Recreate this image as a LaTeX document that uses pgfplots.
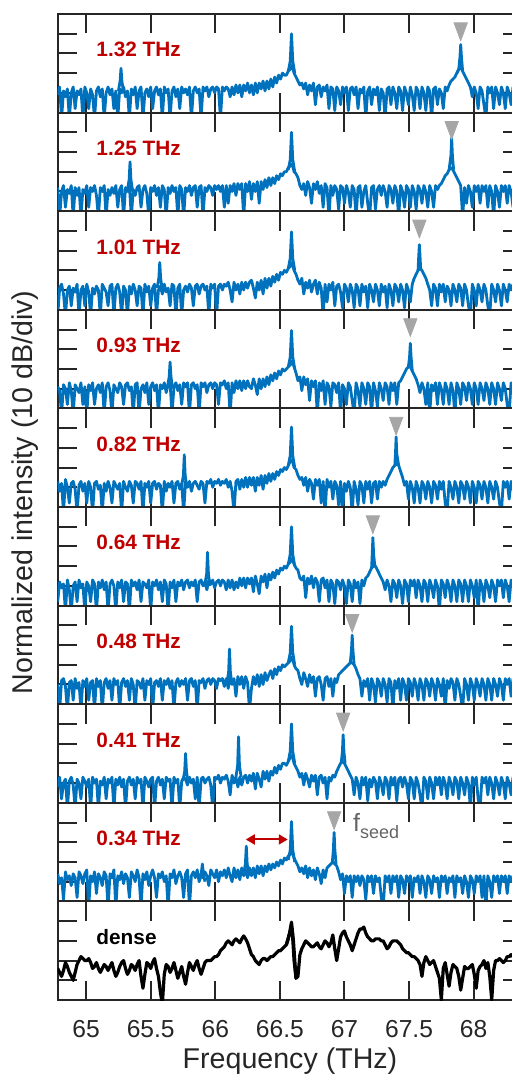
\documentclass[border=0pt]{standalone}
\usepackage{pgfplots}
\pgfplotsset{compat=1.18}
\usepackage{pgfplotstable}
\usepackage{fontspec}
\setmainfont{Liberation Sans}
\usetikzlibrary{arrows.meta}
\definecolor{axgray}{RGB}{38,38,38}
\definecolor{mblue}{RGB}{0,114,189}
\definecolor{lblred}{RGB}{192,0,0}
\definecolor{trigray}{RGB}{166,166,166}
\definecolor{fgray}{RGB}{100,100,100}

% noise floor of each trace, a = 1.32 THz ... i = 0.34 THz, j = dense
\pgfplotstableread{
x a b c d e f g h i j
64.78 0.9 1.2 -0.3 1.1 1.3 0.2 1.0 0.8 1.4 1.6
64.795 1.3 -0.3 1.1 0.9 0.8 1.2 -0.3 1.3 0.9 1.4
64.81 -0.3 1.0 1.3 -0.3 1.2 0.9 1.2 0.2 1.2 1.2
64.825 1.1 1.3 0.8 1.2 -0.3 1.1 1.3 1.0 0.1 1.5
64.84 0.8 0.2 -0.3 1.0 1.4 -0.3 0.9 1.2 1.5 1.9
64.855 1.2 1.1 1.0 0.2 1.0 1.3 -0.3 -0.3 1.1 1.7
64.87 -0.3 0.9 1.2 1.3 0.2 0.8 1.1 1.1 1.3 1.4
64.885 1.0 1.3 0.2 0.9 1.2 -0.3 1.2 1.3 0.8 1.2
64.90 1.3 -0.3 1.1 -0.3 1.3 1.0 0.2 0.9 1.4 1.0
64.915 0.2 1.2 0.9 1.2 0.9 1.2 1.3 -0.3 1.2 1.4
64.93 1.1 0.8 1.3 1.0 -0.3 0.2 0.8 1.2 0.2 1.8
64.945 0.9 1.2 -0.3 0.8 1.1 1.3 1.1 1.0 1.5 2.0
64.96 1.2 -0.3 1.0 1.3 1.3 0.9 -0.3 0.2 1.3 2.2
64.975 -0.3 1.1 1.2 0.2 0.8 1.1 1.2 1.3 0.9 2.1
64.99 1.3 0.9 0.2 1.1 1.2 -0.3 0.9 1.1 1.4 2.0
65.005 1.0 1.3 1.3 -0.3 0.2 1.2 1.3 0.8 1.6 2.0
65.02 0.2 0.2 0.9 1.2 1.3 1.0 0.2 1.2 -0.3 2.1
65.035 1.2 1.2 -0.3 0.9 1.0 0.2 1.1 -0.3 1.3 1.9
65.05 0.9 1.0 1.1 1.3 -0.3 1.3 1.2 1.3 1.0 1.6
65.065 -0.3 1.3 0.8 0.2 1.2 1.1 -0.3 1.0 1.5 1.7
65.08 1.1 0.8 1.2 1.0 1.3 -0.3 1.3 1.2 0.4 1.9
65.095 1.3 -0.3 1.0 1.2 0.9 1.2 0.9 -0.3 1.4 1.6
65.11 0.8 1.2 -0.3 0.8 1.1 0.9 1.2 1.1 1.2 1.4
65.125 1.2 1.0 1.3 1.3 -0.3 1.3 -0.3 0.9 0.8 1.6
65.14 -0.3 1.3 1.1 -0.3 1.2 0.8 1.1 1.3 1.5 1.8
65.155 1.0 -0.3 0.9 1.1 0.8 1.2 1.3 0.2 1.3 1.7
65.17 1.3 1.1 0.2 1.3 1.3 -0.3 0.8 1.2 -0.3 1.5
65.185 0.9 0.8 1.2 0.9 1.0 1.1 1.2 1.0 1.4 1.7
65.20 1.2 1.2 1.3 -0.3 0.2 1.3 0.2 1.3 1.2 1.9
65.215 0.2 0.9 -0.3 1.2 1.3 1.0 1.3 -0.3 1.6 1.5
65.23 1.1 1.3 1.1 1.0 1.1 -0.3 1.0 1.2 -0.3 1.2
65.245 -0.3 0.2 1.3 0.8 0.9 1.2 1.2 0.9 1.3 1.4
65.26 1.2 1.1 0.9 1.3 1.2 0.9 -0.3 1.3 1.1 1.7
65.275 1.0 1.3 -0.3 1.1 -0.3 1.3 1.1 0.8 1.5 1.9
65.29 1.3 -0.3 1.2 0.2 1.3 0.2 1.3 1.2 0.9 2.0
65.305 0.8 1.2 1.0 1.2 1.0 1.2 0.9 -0.3 1.4 1.6
65.32 1.1 1.0 -0.3 1.3 0.8 1.1 1.2 1.1 1.2 1.3
65.335 -0.3 1.3 1.2 0.9 1.3 -0.3 0.2 1.3 0.2 1.5
65.35 1.2 -0.3 0.8 1.1 1.1 1.3 1.3 0.9 1.5 1.8
65.365 0.9 1.1 1.3 -0.3 0.2 1.0 1.0 1.2 1.3 1.7
65.38 1.3 0.8 1.0 1.2 1.3 1.2 -0.3 0.2 1.0 1.5
65.395 0.2 1.2 0.2 1.3 1.2 0.8 1.2 1.3 1.6 1.8
65.41 1.1 1.3 1.2 -0.3 0.9 1.3 1.1 1.0 1.2 2.0
65.425 1.3 0.2 1.1 1.0 1.3 0.2 0.8 1.2 -0.3 1.2
65.44 -0.3 1.1 -0.3 1.2 -0.3 1.2 1.3 -0.3 1.4 0.6
65.455 1.0 1.3 1.3 0.8 1.2 1.1 0.2 1.3 1.1 1.3
65.47 1.2 0.9 0.9 1.3 1.0 0.9 1.2 1.1 1.5 1.9
65.485 0.8 -0.3 1.2 0.2 1.3 1.3 1.0 0.8 0.8 1.8
65.50 1.3 1.2 0.2 1.1 0.2 -0.3 1.3 1.2 1.3 1.6
65.515 0.2 1.0 1.1 1.3 1.2 1.2 -0.3 1.3 1.6 1.9
65.53 1.1 1.3 1.3 0.9 1.3 1.0 1.1 -0.3 1.2 2.1
65.545 1.3 0.8 -0.3 1.2 0.9 1.3 1.2 1.1 0.2 1.6
65.56 0.9 1.2 1.0 -0.3 1.2 0.8 0.9 1.3 1.4 1.2
65.575 1.2 0.2 1.2 1.2 1.1 1.2 1.3 0.9 1.2 0.4
65.59 -0.3 1.3 0.8 1.0 -0.3 0.2 0.2 1.2 1.5 -0.2
65.605 1.3 1.1 1.3 1.3 1.3 1.3 1.2 0.2 1.0 1.3
65.62 1.0 -0.3 0.9 0.8 0.8 1.1 1.0 1.3 1.3 1.8
65.635 1.2 1.2 1.1 1.2 1.2 -0.3 1.3 1.1 -0.3 1.7
65.65 -0.3 0.9 0.2 1.3 1.0 1.2 0.8 1.2 1.4 1.4
65.665 1.1 1.3 1.3 -0.3 1.3 0.9 1.2 -0.3 1.2 1.6
65.68 1.3 1.0 1.2 1.1 0.2 1.3 -0.3 1.3 1.6 1.9
65.695 0.8 1.2 -0.3 1.3 1.2 0.2 1.1 1.0 0.9 1.5
65.71 1.2 -0.3 1.1 0.9 1.3 1.2 1.3 1.2 1.3 1.1
65.725 0.2 1.3 1.3 1.2 0.9 1.0 0.9 -0.3 1.5 1.4
65.74 1.3 1.1 -0.3 0.2 1.2 1.3 1.2 1.1 1.2 1.7
65.755 1.0 -0.3 1.0 1.3 -0.3 0.8 1.0 1.3 0.2 1.2
65.77 1.2 1.2 1.2 1.1 1.3 1.2 1.3 1.2 1.4 0.8
65.785 0.9 1.0 0.9 1.3 1.0 1.3 0.2 0.9 1.6 1.4
65.80 1.3 1.3 1.3 -0.3 1.3 0.9 1.2 1.3 -0.3 1.9
65.815 -0.3 0.8 1.1 1.2 0.8 1.2 1.3 1.0 1.3 1.7
65.83 1.1 1.2 0.2 1.3 1.2 1.0 0.9 1.2 1.5 1.5
65.845 1.3 1.3 1.2 1.0 1.3 1.3 1.2 0.2 1.2 1.8
65.86 1.0 0.2 1.3 1.2 1.1 0.2 -0.3 1.3 1.6 2.0
65.875 1.2 1.2 0.8 -0.3 0.9 1.2 1.2 -0.3 1.0 1.6
65.89 -0.3 1.3 1.2 1.3 1.3 1.3 1.1 1.2 1.4 1.3
65.905 1.3 -0.3 1.3 1.1 1.2 1.0 1.3 1.3 1.2 1.6
65.92 1.1 1.2 1.0 1.3 0.2 1.2 0.8 1.0 1.5 1.9
65.935 1.3 1.0 1.2 0.8 1.3 0.8 1.2 1.2 1.3 2.0
65.95 0.8 1.3 -0.3 1.2 1.2 1.3 1.3 1.3 0.8 2.0
65.965 1.2 1.2 1.3 1.3 1.4 1.1 1.0 0.9 1.6 2.0
65.98 1.3 0.8 1.1 1.0 1.0 1.3 1.3 -0.3 1.4 2.1
65.995 1.0 1.3 1.3 1.3 1.3 0.9 1.2 1.3 1.2 2.2
66.01 1.3 1.1 -0.3 1.2 1.2 1.2 0.8 1.2 1.6 2.2
66.025 1.2 1.3 1.2 0.2 1.4 1.3 1.3 1.4 1.0 2.3
66.04 -0.3 1.0 1.3 1.3 1.1 1.0 1.2 1.0 1.5 2.5
66.055 1.3 1.3 1.0 1.2 1.3 1.3 1.3 1.3 1.3 2.6
66.07 1.1 0.2 1.3 1.4 1.2 1.2 0.9 1.2 1.6 2.7
66.085 1.3 1.3 1.2 1.0 1.4 0.8 1.3 1.4 1.2 2.9
66.10 1.2 0.4 1.4 1.3 1.0 1.3 0.8 1.1 1.7 3.0
66.115 0.8 1.3 1.0 -0.3 1.3 0.9 1.4 0.4 1.3 2.9
66.13 1.3 1.0 0.4 1.3 0.8 1.3 1.0 1.4 1.0 2.8
66.145 0.9 1.4 1.4 0.8 -0.3 0.8 1.3 1.0 1.7 3.0
66.16 1.4 0.8 1.0 1.4 1.3 1.2 0.4 1.3 1.2 3.1
66.175 1.0 1.4 1.3 1.0 1.4 0.9 1.4 0.8 1.6 3.0
66.19 1.4 1.1 0.8 1.4 0.9 1.4 1.0 1.3 1.1 2.9
66.205 0.8 1.4 1.4 0.9 1.4 1.0 1.4 0.9 1.7 3.1
66.22 1.4 -0.3 1.0 1.4 1.0 1.4 0.8 1.3 1.3 3.25
66.235 1.1 1.4 1.4 1.0 1.5 0.9 1.4 1.4 1.6 3.1
66.25 1.5 1.0 1.1 1.4 1.0 1.4 1.1 1.0 1.2 2.9
66.265 1.0 1.5 1.4 1.1 1.5 1.1 -0.3 1.4 1.7 2.6
66.28 1.4 0.6 1.5 1.0 1.1 1.4 0.8 1.1 1.3 2.3
66.295 0.9 1.4 1.1 1.5 1.5 0.7 1.4 1.5 1.7 2.2
66.31 1.5 1.0 0.6 1.2 0.8 1.5 1.0 0.7 1.2 2.0
66.325 1.0 1.5 1.4 0.7 1.5 1.1 1.5 1.5 1.8 1.9
66.34 1.5 0.4 1.0 1.5 1.1 0.6 0.9 1.2 1.4 1.8
66.355 1.2 1.5 1.5 1.0 1.6 1.5 1.5 0.8 1.8 2.0
66.37 1.6 1.1 0.8 1.5 0.9 1.2 1.0 1.6 1.3 2.1
66.385 1.1 1.6 1.6 1.1 1.6 1.6 1.6 1.2 1.8 2.1
66.40 1.6 1.2 1.1 1.6 1.2 0.9 1.2 1.6 1.5 2.0
66.415 1.2 1.7 1.6 1.2 1.7 1.6 1.5 1.1 1.9 2.1
66.43 1.7 1.3 1.2 1.7 1.3 1.3 1.7 1.6 1.6 2.2
66.445 1.3 1.7 1.7 1.4 1.7 1.7 1.3 1.4 1.9 2.2
66.46 1.8 1.4 1.4 1.8 1.4 1.4 1.8 1.8 1.7 2.3
66.475 1.5 1.8 1.8 1.5 1.8 1.8 1.5 1.5 2.0 2.4
66.49 1.9 1.6 1.5 1.9 1.6 1.6 1.9 1.9 1.8 2.5
66.505 1.7 1.9 1.9 1.7 1.9 1.9 1.7 1.7 2.1 2.5
66.52 2.0 1.8 1.8 2.0 1.8 1.8 2.0 2.0 1.9 2.6
66.535 1.9 2.0 2.0 1.9 2.0 2.0 1.9 2.0 2.2 2.7
66.55 1.9 2.0 1.9 2.0 1.9 1.9 2.0 1.9 2.1 2.8
66.565 2.1 2.2 2.1 2.1 2.1 2.1 2.1 2.1 2.3 3.1
66.58 2.2 2.3 2.2 2.2 2.3 2.2 2.2 2.3 2.4 3.5
66.595 2.4 2.4 2.4 2.4 2.4 2.4 2.4 2.4 2.5 3.6
66.61 2.0 2.0 2.0 2.1 2.0 2.1 2.0 2.0 2.2 2.0
66.625 1.8 1.9 1.8 1.8 1.9 1.9 1.8 1.8 2.0 1.1
66.64 1.6 1.7 1.5 1.4 1.6 1.8 1.7 1.6 1.8 1.2
66.655 1.4 1.3 1.3 1.6 1.4 1.4 1.3 1.3 1.5 2.3
66.67 1.5 1.1 1.6 0.9 1.5 1.3 1.0 1.5 1.7 2.6
66.685 1.2 1.4 0.8 1.6 1.1 1.5 1.6 0.9 1.4 2.8
66.70 1.5 0.8 1.4 1.2 1.5 0.4 1.3 1.5 1.8 3.0
66.715 0.9 1.5 1.1 1.5 0.8 1.4 0.9 1.2 1.2 2.9
66.73 1.4 1.2 1.5 0.4 1.4 1.1 1.5 0.8 1.7 2.8
66.745 1.1 0.4 0.9 1.4 1.2 1.5 1.1 1.4 1.3 2.7
66.76 1.5 1.4 1.3 1.1 0.4 0.9 1.4 1.1 1.6 2.7
66.775 0.4 1.1 1.5 1.4 1.4 1.4 0.4 1.4 1.1 2.8
66.79 1.3 1.5 0.8 -0.3 1.1 1.2 1.3 0.4 1.7 2.9
66.805 1.4 0.9 1.4 1.3 1.4 0.2 1.4 1.3 1.4 2.7
66.82 0.8 1.3 1.1 0.9 0.2 1.3 1.0 1.4 0.9 2.6
66.835 1.3 0.2 -0.3 1.4 1.3 1.4 0.2 1.0 1.6 2.8
66.85 1.1 1.4 1.3 0.2 -0.3 0.9 1.3 1.3 1.2 3.0
66.865 1.4 1.2 0.4 1.3 1.4 1.3 1.4 0.2 1.7 2.9
66.88 0.2 -0.3 1.3 1.1 1.0 0.2 0.9 1.3 1.8 2.7
66.895 1.3 1.3 1.0 0.1 1.3 1.3 1.3 1.1 1.9 2.9
66.91 1.2 0.8 1.4 1.3 0.4 1.1 0.4 1.4 2.0 3.3
66.925 0.1 1.3 0.2 1.2 1.3 0.1 1.3 1.3 1.9 2.6
66.94 1.3 1.1 1.2 0.8 1.1 1.3 1.1 1.6 1.8 2.0
66.955 1.1 0.1 1.3 1.3 0.1 1.2 1.5 1.8 1.5 2.6
66.97 0.4 1.3 0.9 -0.3 1.3 0.8 1.6 2.0 1.1 3.2
66.985 1.3 1.2 0.1 1.2 -0.3 1.3 1.7 2.1 1.4 3.4
67.00 1.0 0.4 1.3 1.0 1.2 1.0 1.8 2.0 0.4 3.5
67.015 1.3 1.3 1.1 0.2 0.8 0.1 1.9 1.8 1.3 3.2
67.03 0.1 1.0 0.4 1.3 1.3 1.3 2.0 1.6 1.0 3.0
67.045 1.2 0.2 1.3 1.1 1.0 1.1 2.1 1.4 1.3 2.8
67.06 1.3 1.3 1.0 0.4 -0.3 0.2 2.1 1.2 0.2 2.5
67.075 0.9 1.1 0.1 -0.3 1.3 1.3 2.0 0.4 1.3 2.8
67.09 1.3 -0.3 1.3 1.3 0.9 0.9 1.8 1.3 1.0 3.1
67.105 0.2 1.2 1.1 0.9 0.1 1.2 1.5 1.0 1.3 3.4
67.12 1.2 1.3 0.2 0.1 1.3 0.1 1.3 0.2 0.8 3.6
67.135 1.0 0.2 1.3 1.3 1.1 1.3 0.4 1.3 1.3 3.6
67.15 1.3 1.0 0.9 1.0 0.2 1.0 1.2 0.9 1.1 3.7
67.165 -0.3 1.3 1.2 0.2 1.3 1.4 0.9 1.3 0.1 3.4
67.18 1.1 0.4 0.1 1.3 0.9 1.5 1.3 0.1 1.3 3.2
67.195 1.3 -0.3 1.3 1.1 1.3 1.7 0.2 1.2 1.0 3.1
67.21 0.4 1.2 1.0 -0.3 0.2 1.9 1.3 0.8 1.3 3.0
67.225 1.2 1.3 0.4 1.3 1.2 2.0 1.0 1.3 0.4 3.0
67.24 0.9 0.1 1.3 0.9 1.3 2.0 0.1 1.1 1.3 3.1
67.255 1.3 1.1 1.0 0.1 0.4 1.8 1.3 0.2 1.0 3.1
67.27 0.1 1.3 0.2 1.3 1.3 1.6 1.1 1.3 1.2 3.1
67.285 1.2 0.8 1.3 1.0 1.0 1.4 0.4 1.0 0.2 3.0
67.30 1.0 1.3 0.9 0.4 1.3 1.2 1.3 0.4 -0.3 3.0
67.315 -0.3 1.0 1.2 1.3 1.1 0.8 1.0 1.3 1.3 2.8
67.33 1.2 0.2 0.1 1.1 1.4 1.3 0.1 1.1 1.0 2.6
67.345 1.3 1.3 1.3 0.2 1.6 1.0 1.3 0.2 1.3 2.7
67.36 0.4 1.1 1.0 1.3 1.8 0.2 1.1 1.3 0.4 2.9
67.375 1.3 0.4 0.2 0.9 2.0 1.3 -0.3 0.9 1.3 3.0
67.39 1.0 1.3 1.3 1.3 2.1 1.1 1.2 1.3 1.0 3.0
67.405 0.2 1.0 1.1 0.2 2.2 0.4 0.8 0.1 1.3 3.0
67.42 1.3 -0.3 0.4 1.3 2.1 1.3 1.3 1.2 0.2 2.9
67.435 1.1 1.3 1.3 1.4 1.8 1.0 0.2 1.3 1.3 2.8
67.45 0.1 1.0 1.0 1.6 1.5 0.1 1.3 0.8 1.1 2.6
67.465 1.3 0.2 0.1 1.8 1.1 1.3 1.0 1.3 0.4 2.5
67.48 1.0 1.3 1.3 2.0 1.3 1.1 0.2 1.0 1.3 2.4
67.495 0.4 1.1 1.0 2.1 0.4 0.2 1.3 0.2 1.0 2.4
67.51 1.3 0.2 0.4 2.1 1.3 1.3 1.1 1.3 1.3 2.3
67.525 0.9 1.3 1.3 1.9 1.0 1.0 0.4 1.1 0.2 2.2
67.54 0.1 1.0 1.6 1.7 0.2 1.3 1.3 0.2 1.2 2.2
67.555 1.3 0.1 1.8 1.5 1.3 0.4 1.0 1.3 1.0 2.1
67.57 1.1 1.3 2.0 1.2 1.0 1.3 0.2 1.0 1.3 2.0
67.585 0.2 1.1 2.1 0.8 0.2 1.0 1.3 0.4 0.4 1.8
67.60 1.3 0.4 2.0 1.3 1.3 0.2 1.0 -0.3 1.3 1.2
67.615 1.0 1.3 1.8 1.0 1.1 1.3 0.2 1.3 1.0 1.9
67.63 0.1 1.0 1.6 0.2 0.4 1.1 1.3 1.1 0.2 2.2
67.645 1.3 0.2 1.3 1.3 1.3 0.2 1.1 0.2 1.3 2.0
67.66 1.1 1.3 1.0 -0.3 1.0 1.3 0.4 1.3 1.1 1.8
67.675 -0.3 1.0 0.2 1.2 0.2 1.0 1.3 1.0 0.4 1.9
67.69 1.2 0.2 1.3 0.9 1.3 0.4 1.0 0.2 1.3 2.0
67.705 1.3 1.3 1.1 1.3 1.1 1.3 0.2 1.3 1.0 1.7
67.72 0.4 1.1 0.2 0.2 0.4 1.0 1.3 0.9 1.2 1.4
67.735 1.2 1.3 1.3 1.3 1.3 -0.3 1.0 1.3 0.2 1.1
67.75 1.0 1.4 0.9 1.0 0.9 1.3 0.4 0.4 1.3 0.0
67.765 0.2 1.6 1.3 0.2 1.3 1.1 1.3 1.3 1.0 1.6
67.78 1.3 1.8 0.4 1.3 0.2 0.4 -0.3 1.0 1.3 1.9
67.795 1.1 1.9 1.2 1.0 -0.3 1.3 1.2 0.2 0.4 1.3
67.81 1.4 2.1 1.0 0.2 1.3 1.0 0.8 1.3 1.2 0.7
67.825 1.6 2.2 0.2 1.3 1.0 0.2 1.3 1.0 1.0 1.4
67.84 1.7 2.1 1.3 0.9 0.4 1.3 1.1 0.4 1.3 1.8
67.855 1.8 1.9 1.0 -0.3 1.3 1.0 0.2 1.3 0.2 1.7
67.87 2.0 1.7 0.4 1.3 1.0 0.2 1.3 1.1 1.3 1.6
67.885 2.2 1.5 1.3 1.0 0.2 1.3 1.0 0.2 1.0 1.2
67.90 2.3 1.3 1.1 0.2 1.3 1.1 0.4 1.3 1.2 0.5
67.915 2.1 -0.3 0.2 1.3 1.1 0.2 -0.3 1.0 0.4 1.1
67.93 1.9 1.2 1.3 1.1 0.4 1.3 1.3 0.4 1.3 1.7
67.945 1.7 0.4 1.0 0.4 1.3 1.0 1.0 1.3 1.0 1.6
67.96 1.5 1.3 0.2 1.3 1.0 0.2 0.2 1.0 0.2 1.6
67.975 1.3 1.0 -0.3 1.0 0.2 1.3 1.3 -0.3 1.3 1.7
67.99 0.8 0.2 1.3 0.2 1.3 1.0 1.0 1.3 1.1 1.8
68.005 1.3 1.3 1.0 1.3 1.0 0.4 0.2 0.9 0.4 1.3
68.02 1.0 1.0 0.2 1.0 0.2 1.3 1.3 1.3 1.3 0.6
68.035 0.2 1.3 1.3 0.2 1.3 -0.3 1.0 0.2 1.0 1.5
68.05 1.3 0.4 1.0 1.3 1.1 1.3 0.4 -0.3 1.3 1.7
68.065 1.1 1.3 0.4 1.0 0.4 1.0 1.3 1.3 0.2 1.8
68.08 0.4 1.0 1.3 0.4 1.3 0.2 1.0 1.0 1.3 2.0
68.095 -0.3 1.3 1.0 1.3 1.0 1.3 0.2 1.3 -0.3 1.6
68.11 1.3 0.2 0.2 1.0 0.2 1.0 1.3 0.4 1.3 1.9
68.125 1.0 1.3 -0.3 0.2 1.3 0.4 1.0 1.3 1.0 1.2
68.14 1.3 1.0 1.3 1.3 1.0 1.3 0.2 1.0 0.2 0.0
68.155 0.2 -0.3 1.0 1.0 0.4 1.0 1.3 0.2 1.3 1.5
68.17 1.3 1.3 0.4 0.2 1.3 0.2 1.0 1.3 1.0 2.0
68.185 1.0 1.0 1.3 1.3 1.0 1.3 0.4 1.0 1.3 2.0
68.20 0.4 0.2 1.0 1.0 0.2 1.0 1.3 0.4 0.4 2.1
68.215 1.3 1.3 0.2 0.4 -0.3 1.3 1.0 1.3 1.3 2.0
68.23 1.0 1.0 1.3 1.3 1.3 0.4 0.2 1.0 1.0 1.9
68.245 0.2 1.3 1.0 1.0 1.0 1.3 1.3 0.2 1.3 2.0
68.26 1.3 0.4 0.4 0.2 1.3 1.0 1.0 1.3 0.4 2.2
68.275 1.0 1.3 1.3 -0.3 0.4 0.2 1.3 1.0 1.3 2.2
68.29 0.4 1.0 1.0 1.3 1.3 1.3 0.4 0.4 1.0 2.3
68.305 1.3 0.2 1.3 1.0 1.0 1.0 1.3 1.3 1.3 2.2
68.32 1.0 1.3 0.4 0.4 0.2 1.3 1.0 1.0 0.4 2.1
68.335 0.2 1.0 1.3 1.3 1.3 0.4 -0.3 1.3 1.3 2.1
68.35 1.3 1.3 1.0 1.0 1.0 1.3 1.3 0.2 1.0 2.2
68.365 1.0 0.4 1.3 0.2 1.3 1.0 1.0 1.3 1.3 2.2
68.38 1.3 1.3 1.0 1.3 0.4 1.3 1.3 1.0 1.0 2.3
}\spec

\pgfplotsset{
  panel/.style={
    anchor=north west, width=232.5pt, height=49.3pt, scale only axis,
    xmin=64.78, xmax=68.38, ymin=0, ymax=5,
    xtick={65,65.5,66,66.5,67,67.5,68}, ytick={1,2,3,4},
    xticklabels={}, yticklabels={},
    tick align=inside, major tick length=9.7pt,
    axis line style={line width=1pt, draw=axgray},
    tick style={line width=1pt, draw=axgray},
    clip=true,
  },
  trace/.style={mblue, line width=1.4pt, line join=round},
  seedmark/.style={only marks, mark=triangle*, mark size=5.9pt,
    mark options={rotate=180, xscale=0.65, fill=trigray, draw=trigray}},
}
\newcommand{\plabel}[2][lblred]{\node[anchor=base west, inner sep=0pt, text=#1,
  font=\fontsize{10.4}{10.4}\selectfont\bfseries] at (axis cs:65.077,2.82) {#2};}

\begin{document}
\begin{tikzpicture}

\begin{axis}[panel, at={(0pt,0pt)}]
\addplot[trace] table[x=x, y=a] {\spec};
\addplot[trace] coordinates {(66.565,2.1)(66.58,2.6)(66.59,4.0)(66.60,2.6)(66.615,2.0)};
\addplot[trace] coordinates {(67.87,2.0)(67.885,2.2)(67.894,2.8)(67.90,3.45)(67.906,2.8)(67.915,2.1)};
\addplot[trace] coordinates {(65.25,1.1)(65.263,1.6)(65.27,2.25)(65.277,1.6)(65.29,1.0)};
\addplot[seedmark] coordinates {(67.90,4.25)};
\plabel{1.32 THz}
\end{axis}

\begin{axis}[panel, at={(0pt,-49.3pt)}]
\addplot[trace] table[x=x, y=b] {\spec};
\addplot[trace] coordinates {(66.565,2.1)(66.58,2.6)(66.59,4.0)(66.60,2.6)(66.615,2.0)};
\addplot[trace] coordinates {(67.81,2.1)(67.824,2.8)(67.83,3.7)(67.836,2.8)(67.845,2.1)};
\addplot[trace] coordinates {(65.32,1.1)(65.333,1.6)(65.34,2.5)(65.347,1.6)(65.36,1.0)};
\addplot[seedmark] coordinates {(67.83,4.25)};
\plabel{1.25 THz}
\end{axis}

\begin{axis}[panel, at={(0pt,-98.6pt)}]
\addplot[trace] table[x=x, y=c] {\spec};
\addplot[trace] coordinates {(66.565,2.1)(66.58,2.6)(66.59,3.95)(66.60,2.6)(66.615,2.0)};
\addplot[trace] coordinates {(67.57,2.0)(67.574,2.6)(67.58,3.3)(67.586,2.6)(67.59,2.1)};
\addplot[trace] coordinates {(65.55,1.1)(65.563,1.6)(65.57,2.4)(65.577,1.6)(65.59,1.0)};
\addplot[seedmark] coordinates {(67.58,4.25)};
\plabel{1.01 THz}
\end{axis}

\begin{axis}[panel, at={(0pt,-147.9pt)}]
\addplot[trace] table[x=x, y=d] {\spec};
\addplot[trace] coordinates {(66.565,2.1)(66.58,2.6)(66.59,3.95)(66.60,2.6)(66.615,2.0)};
\addplot[trace] coordinates {(67.495,2.1)(67.504,2.6)(67.51,3.3)(67.516,2.6)(67.525,1.9)};
\addplot[trace] coordinates {(65.63,1.1)(65.643,1.6)(65.65,2.35)(65.657,1.6)(65.67,1.0)};
\addplot[seedmark] coordinates {(67.51,4.25)};
\plabel{0.93 THz}
\end{axis}

\begin{axis}[panel, at={(0pt,-197.2pt)}]
\addplot[trace] table[x=x, y=e] {\spec};
\addplot[trace] coordinates {(66.565,2.1)(66.58,2.6)(66.59,4.05)(66.60,2.6)(66.615,2.0)};
\addplot[trace] coordinates {(67.39,2.1)(67.395,2.7)(67.40,3.55)(67.405,2.7)(67.42,2.1)};
\addplot[trace] coordinates {(65.74,1.1)(65.753,1.6)(65.76,2.65)(65.767,1.6)(65.78,1.0)};
\addplot[seedmark] coordinates {(67.40,4.25)};
\plabel{0.82 THz}
\end{axis}

\begin{axis}[panel, at={(0pt,-246.5pt)}]
\addplot[trace] table[x=x, y=f] {\spec};
\addplot[trace] coordinates {(66.565,2.1)(66.58,2.6)(66.59,4.0)(66.60,2.6)(66.615,2.0)};
\addplot[trace] coordinates {(67.21,1.9)(67.215,2.6)(67.22,3.45)(67.226,2.6)(67.235,2.0)};
\addplot[trace] coordinates {(65.92,1.1)(65.933,1.6)(65.94,2.7)(65.947,1.6)(65.96,1.0)};
\addplot[seedmark] coordinates {(67.22,4.25)};
\plabel{0.64 THz}
\end{axis}

\begin{axis}[panel, at={(0pt,-295.8pt)}]
\addplot[trace] table[x=x, y=g] {\spec};
\addplot[trace] coordinates {(66.565,2.1)(66.58,2.6)(66.59,3.95)(66.60,2.6)(66.615,2.0)};
\addplot[trace] coordinates {(67.045,2.1)(67.054,2.7)(67.06,3.5)(67.066,2.7)(67.075,2.0)};
\addplot[trace] coordinates {(66.09,1.1)(66.103,1.6)(66.11,2.8)(66.117,1.6)(66.13,1.0)};
\addplot[seedmark] coordinates {(67.06,4.25)};
\plabel{0.48 THz}
\end{axis}

\begin{axis}[panel, at={(0pt,-345.1pt)}]
\addplot[trace] table[x=x, y=h] {\spec};
\addplot[trace] coordinates {(66.565,2.1)(66.58,2.6)(66.59,4.0)(66.60,2.6)(66.615,2.0)};
\addplot[trace] coordinates {(66.975,2.0)(66.984,2.6)(66.99,3.45)(66.996,2.6)(67.005,2.0)};
\addplot[trace] coordinates {(66.16,1.3)(66.173,1.9)(66.18,3.35)(66.187,1.9)(66.20,1.3)};
\addplot[trace] coordinates {(65.75,1.1)(65.763,1.6)(65.77,2.5)(65.777,1.6)(65.79,1.0)};
\addplot[seedmark] coordinates {(66.99,4.25)};
\plabel{0.41 THz}
\end{axis}

\begin{axis}[panel, at={(0pt,-394.4pt)}]
\addplot[trace] table[x=x, y=i] {\spec};
\addplot[trace] coordinates {(66.565,2.1)(66.58,2.6)(66.59,4.05)(66.60,2.6)(66.615,2.0)};
\addplot[trace] coordinates {(66.905,1.9)(66.914,2.6)(66.92,3.5)(66.926,2.6)(66.935,1.9)};
\addplot[trace] coordinates {(66.22,1.4)(66.233,1.9)(66.24,2.8)(66.247,1.9)(66.26,1.3)};
\addplot[trace] coordinates {(65.88,1.1)(65.893,1.5)(65.90,1.9)(65.907,1.5)(65.92,1.0)};
\addplot[seedmark] coordinates {(66.92,4.25)};
\draw[lblred, line width=1pt,
  {Triangle[length=4.5pt,width=5pt]}-{Triangle[length=4.5pt,width=5pt]}]
  (axis cs:66.236,3.14) -- (axis cs:66.561,3.14);
\node[anchor=base west, inner sep=0pt, text=fgray] at (axis cs:67.064,3.53)
  {{\fontsize{12.5}{12.5}\selectfont f}{\fontsize{9}{9}\selectfont\raisebox{-3.3pt}{seed}}};
\plabel{0.34 THz}
\end{axis}

\begin{axis}[panel, at={(0pt,-443.7pt)},
  xticklabels={65,65.5,66,66.5,67,67.5,68},
  xticklabel style={font=\fontsize{12.3}{12.3}\selectfont, text=axgray, anchor=base, yshift=-18.9pt}]
\addplot[black, line width=1.6pt, line join=round] table[x=x, y=j] {\spec};
\addplot[black, line width=1.6pt, line join=round] coordinates {(66.55,2.8)(66.575,3.4)(66.59,3.95)(66.605,3.0)(66.625,1.1)};
\plabel[black]{dense}
\end{axis}

\node[anchor=base, rotate=90, text=axgray, font=\fontsize{14.3}{14.3}\selectfont]
  at (-12.35pt,-239.25pt) {Normalized intensity (10 dB/div)};
\node[anchor=base, text=axgray, font=\fontsize{14.3}{14.3}\selectfont]
  at (116.15pt,-527pt) {Frequency (THz)};

\pgfresetboundingbox
\path[use as bounding box] (-28.85pt,-530pt) rectangle (226.65pt,7pt);
\end{tikzpicture}
\end{document}
